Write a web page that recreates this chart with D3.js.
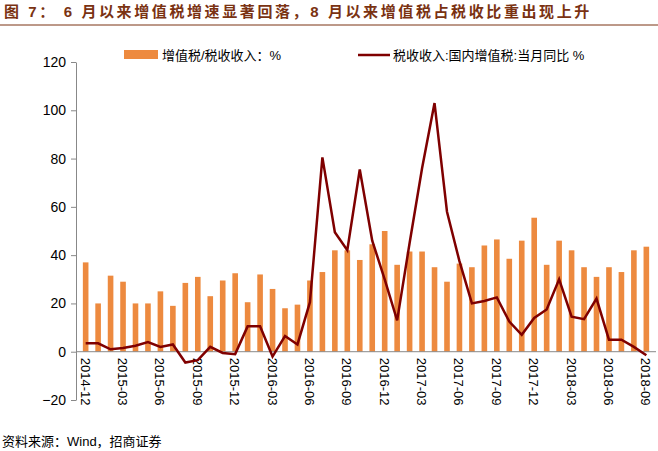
<!DOCTYPE html><html><head><meta charset="utf-8"><script src="https://cdn.jsdelivr.net/npm/d3@7"></script>
<style>body{margin:0;background:#fff}text{font-family:"Liberation Sans","Noto Sans CJK SC",sans-serif}</style></head><body><svg id="c" width="658" height="451"></svg><script>
const months=[];for(let y=2014,m=12;months.length<46;){months.push(y+"-"+String(m).padStart(2,"0"));m++;if(m>12){m=1;y++;}}
const vatShare=[37,20,31.5,29,20,20,25,19,28.5,31,23,29.5,32.5,20.5,32,26,18,19.5,29.5,33,42,42,38,44.5,50,36,41.5,41.5,35,29,36.5,35,44,46.5,38.5,46,55.5,36,46,42,35,31,35,33,42,43.5];
const vatYoY=[3.5,3.5,1,1.5,2.5,4,2,3,-4.5,-3.5,2,-0.5,-1,10.5,10.5,-2,6.5,3,20.5,80.5,49.5,42,75.5,46,30,13,45,76,103,58,37.5,20,21,22.5,12.5,7,14,17.5,30,14.5,13.5,22,5,5,2,-1.5];
const yTicks=[-20,0,20,40,60,80,100,120];
const svg=d3.select("#c");
svg.append("text").attr("x",4).attr("y",17).attr("fill","#7a3212").attr("font-weight","bold").attr("font-size",15).attr("letter-spacing",2.6).attr("font-family","Noto Sans CJK SC").text("图 7：  6 月以来增值税增速显著回落，8 月以来增值税占税收比重出现上升");
svg.append("line").attr("x1",0).attr("x2",658).attr("y1",25).attr("y2",25).attr("stroke","#7a3212").attr("stroke-width",1);
const x=d3.scaleBand().domain(months).range([76,656]).padding(0.55);
const y=d3.scaleLinear().domain([-20,120]).range([400,62]);
const g=svg.append("g");
g.selectAll("rect").data(vatShare).join("rect").attr("x",(d,i)=>x(months[i])).attr("width",x.bandwidth()).attr("y",d=>y(d)).attr("height",d=>y(0)-y(d)).attr("fill","#ed8a3f");
const ya=svg.append("g").attr("transform","translate(76,0)").call(d3.axisLeft(y).tickValues(yTicks).tickSize(5).tickSizeOuter(0));
ya.select(".domain").attr("stroke","#888");ya.selectAll("line").attr("stroke","#888");ya.selectAll("text").attr("font-size",14).attr("fill","#000").attr("dx",-2).attr("font-family","Liberation Sans");
svg.append("line").attr("x1",76).attr("x2",656).attr("y1",y(0)).attr("y2",y(0)).attr("stroke","#888");
svg.selectAll(".xl").data(months.filter((d,i)=>i%3==0)).join("text").attr("class","xl").attr("font-size",13).attr("transform",d=>`translate(${x(d)+x.bandwidth()/2-5},${y(0)+6}) rotate(90)`).text(d=>d);
svg.append("path").datum(vatYoY).attr("fill","none").attr("stroke","#7f0000").attr("stroke-width",2.5).attr("d",d3.line().x((d,i)=>x(months[i])+x.bandwidth()/2).y(d=>y(d)));
svg.append("rect").attr("x",124).attr("y",50).attr("width",34).attr("height",9).attr("fill","#ed8a3f");
svg.append("text").attr("x",162).attr("y",60).attr("font-size",13).text("增值税/税收收入：%");
svg.append("line").attr("x1",358).attr("x2",390).attr("y1",55).attr("y2",55).attr("stroke","#7f0000").attr("stroke-width",2.5);
svg.append("text").attr("x",393).attr("y",60).attr("font-size",13).text("税收收入:国内增值税:当月同比 %");
svg.append("text").attr("x",2).attr("y",446).attr("font-size",13).text("资料来源：Wind，招商证券");
</script></body></html>
